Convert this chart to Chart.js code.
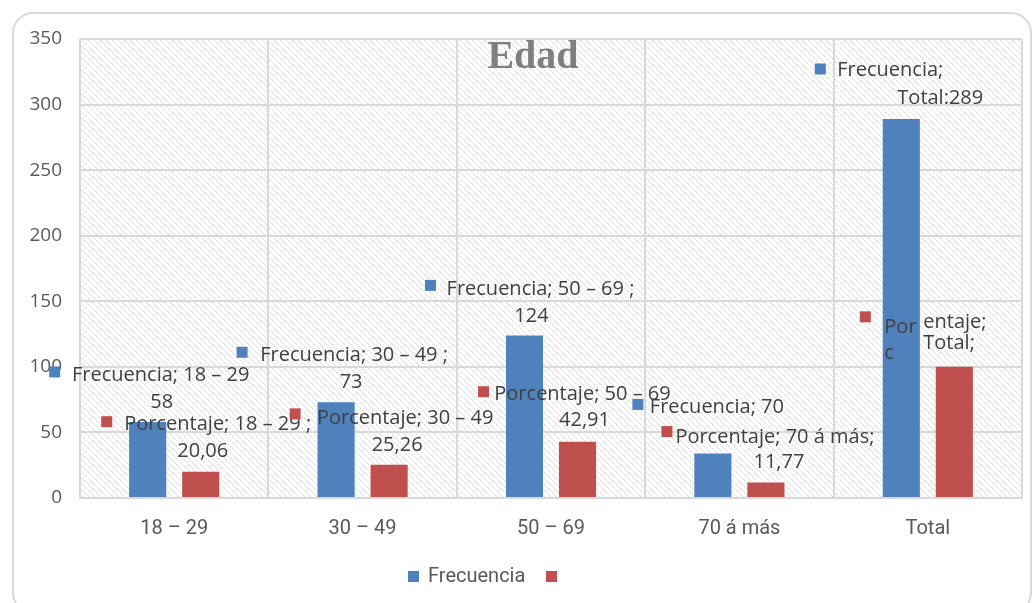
<!DOCTYPE html>
<html><head><meta charset="utf-8">
<script src="https://cdn.jsdelivr.net/npm/chart.js@4"></script>
<style>html,body{margin:0;padding:0;background:#fff}#wrap{width:1036px;height:603px}</style>
</head><body><div id="wrap"><canvas id="c" width="1036" height="603"></canvas></div>
<script>
const categories = ["18 – 29", "30 – 49", "50 – 69", "70 á más", "Total"];
const frecuencia = [58, 73, 124, 34, 289];
const porcentaje = [20.06, 25.26, 42.91, 11.77, 100];
const yTicks = [0, 50, 100, 150, 200, 250, 300, 350];
const seriesNames = ["Frecuencia", "Porcentaje"];
const title = "Edad";

const fmt = v => String(v).replace('.', ',');

// label text per bar (as shown in the picture)
const labelText = [
  [
    [seriesNames[0] + "; " + categories[0], fmt(frecuencia[0])],
    [seriesNames[0] + "; " + categories[1] + " ;", fmt(frecuencia[1])],
    [seriesNames[0] + "; " + categories[2] + " ;", fmt(frecuencia[2])],
    [seriesNames[0] + "; 70"],
    [seriesNames[0] + ";", categories[4] + ":" + fmt(frecuencia[4])]
  ],
  [
    [seriesNames[1] + "; " + categories[0] + " ;", fmt(porcentaje[0])],
    [seriesNames[1] + "; " + categories[1], fmt(porcentaje[1])],
    [seriesNames[1] + "; " + categories[2], fmt(porcentaje[2])],
    [seriesNames[1] + "; " + categories[3] + ";", fmt(porcentaje[3])],
    ["Por", "c", "entaje;", categories[4] + ";"]
  ]
];
// layout offsets relative to bar top: marker [dx,dy], lines [dx,dy,align]
const labelLayout = [
  [
    {m:[-93,-50], l:[[13,-47,'center'],[14,-20,'center']]},
    {m:[-94,-50], l:[[18,-47,'center'],[15,-20,'center']]},
    {m:[-94,-50], l:[[16,-46,'center'],[7,-19,'center']]},
    {m:[-75,-49], l:[[4,-46,'center']]},
    {m:[-81,-50], l:[[-11,-49,'center'],[39,-21,'center']]}
  ],
  [
    {m:[-94,-50], l:[[17,-47,'center'],[2,-20,'center']]},
    {m:[-94,-51], l:[[16,-47,'center'],[8,-20,'center']]},
    {m:[-94,-50], l:[[5,-47,'center'],[7,-21,'center']]},
    {m:[-99,-51], l:[[9,-45,'center'],[13,-20,'center']]},
    {m:[-89,-50], l:[[-70,-40,'left'],[-70,-14,'left'],[-31,-45,'left'],[-31,-24,'left']]}
  ]
];

const BLUE = '#4f81bd', RED = '#c0504d';
const LABEL_FONT = '20px "Open Sans", "Noto Sans", sans-serif';

let pattern = null;
function makePattern(ctx) {
  if (pattern) return pattern;
  const p = document.createElement('canvas');
  p.width = 6; p.height = 6;
  const g = p.getContext('2d');
  g.fillStyle = '#ffffff'; g.fillRect(0,0,6,6);
  for (let k = 0; k < 6; k++) {
    g.fillStyle = (k % 2 === 0) ? '#d8d8d8' : '#eeeeee';
    g.fillRect(k, k, 1, 1);
  }
  pattern = ctx.createPattern(p, 'repeat');
  return pattern;
}

const framePlugin = {
  id: 'frame',
  beforeDraw(chart) {
    const ctx = chart.ctx;
    ctx.save();
    ctx.fillStyle = '#fff'; ctx.fillRect(0,0,chart.width,chart.height);
    ctx.strokeStyle = '#d9d9d9'; ctx.lineWidth = 2;
    ctx.beginPath();
    ctx.roundRect(13, 13, 1018, 600, 20);
    ctx.stroke();
    const a = chart.chartArea;
    ctx.fillStyle = makePattern(ctx);
    ctx.fillRect(a.left, a.top, a.right - a.left, a.bottom - a.top);
    ctx.restore();
  },
  afterDatasetsDraw(chart) {
    const ctx = chart.ctx;
    ctx.save();
    // title
    ctx.font = 'bold 40px "Liberation Serif", "DejaVu Serif", serif';
    ctx.fillStyle = '#7f7f7f';
    ctx.textAlign = 'center'; ctx.textBaseline = 'middle';
    ctx.fillText(title, 533, 58);
    // data labels
    ctx.font = LABEL_FONT;
    ctx.textBaseline = 'middle';
    chart.data.datasets.forEach((ds, d) => {
      const meta = chart.getDatasetMeta(d);
      meta.data.forEach((el, i) => {
        const L = labelLayout[d][i], T = labelText[d][i];
        const x = el.x, y = el.y;
        ctx.fillStyle = ds.backgroundColor;
        ctx.fillRect(x + L.m[0] - 5.5, y + L.m[1] - 5.5, 11, 11);
        ctx.fillStyle = '#404040';
        T.forEach((t, k) => {
          const o = L.l[k];
          ctx.textAlign = o[2];
          ctx.fillText(t, x + o[0], y + o[1]);
        });
      });
    });
    ctx.restore();
  },
  afterDraw(chart) {
    const ctx = chart.ctx;
    ctx.save();
    ctx.font = '20px "Liberation Sans Narrow", "Roboto", sans-serif';
    ctx.textBaseline = 'middle'; ctx.textAlign = 'left';
    ctx.fillStyle = BLUE; ctx.fillRect(408, 571, 11, 11);
    ctx.fillStyle = '#595959'; ctx.fillText(seriesNames[0], 428, 577);
    ctx.fillStyle = RED; ctx.fillRect(546, 571, 11, 11);
    ctx.restore();
  }
};

new Chart(document.getElementById('c'), {
  type: 'bar',
  data: {
    labels: categories,
    datasets: [
      {label: seriesNames[0], data: frecuencia, backgroundColor: BLUE, categoryPercentage: 0.563, barPercentage: 0.70},
      {label: seriesNames[1], data: porcentaje, backgroundColor: RED, categoryPercentage: 0.563, barPercentage: 0.70}
    ]
  },
  options: {
    responsive: false,
    animation: false,
    layout: {padding: {top: 39, left: 0, right: 14, bottom: 65}},
    plugins: {legend: {display: false}, title: {display: false}, tooltip: {enabled: false}},
    scales: {
      x: {
        grid: {color: '#d9d9d9', lineWidth: 2, drawTicks: false, offset: true},
        border: {color: '#d9d9d9', width: 2},
        ticks: {color: '#595959', font: {family: '"Liberation Sans Narrow", "Roboto", sans-serif', size: 20}, padding: 19},
        afterFit(s) { s.height = 40; }
      },
      y: {
        min: 0, max: 350,
        afterBuildTicks(s) { s.ticks = yTicks.map(v => ({value: v})); },
        grid: {color: '#d9d9d9', lineWidth: 2, drawTicks: false},
        border: {display: false},
        ticks: {color: '#595959', font: {family: '"Open Sans", sans-serif', size: 19}, padding: 18},
        afterFit(s) { s.width = 80; }
      }
    }
  },
  plugins: [framePlugin]
});
</script>
</body></html>
